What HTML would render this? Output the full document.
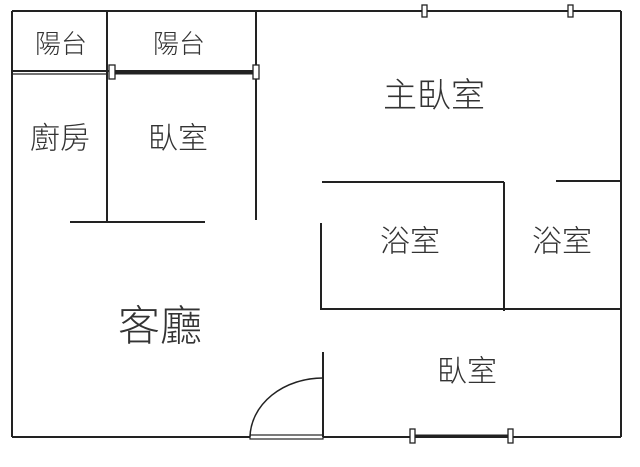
<!DOCTYPE html>
<html><head><meta charset="utf-8"><style>
html,body{margin:0;padding:0;background:#fff;}
svg{display:block;}
text{font-family:"Liberation Sans","Noto Sans CJK TC",sans-serif;fill:#333;text-anchor:middle;dominant-baseline:central;font-weight:300;}
</style></head><body>
<svg width="640" height="467" viewBox="0 0 640 467" xmlns="http://www.w3.org/2000/svg">
<g stroke="#222" stroke-width="2" fill="none">
<line x1="12" y1="11" x2="621" y2="11"/>
<line x1="12" y1="11" x2="12" y2="437"/>
<line x1="621" y1="11" x2="621" y2="437"/>
<line x1="12" y1="437" x2="250" y2="437"/>
<line x1="323" y1="437" x2="621" y2="437"/>
<line x1="107" y1="11" x2="107" y2="222"/>
<line x1="256" y1="11" x2="256" y2="220"/>
<line x1="70" y1="222" x2="205" y2="222"/>
<line x1="12" y1="71" x2="256" y2="71"/>
<line x1="12" y1="74" x2="107" y2="74" stroke-width="1.2"/>
<line x1="112" y1="73" x2="256" y2="73" stroke-width="3"/>
<line x1="322" y1="182" x2="504" y2="182"/>
<line x1="321" y1="223" x2="321" y2="310"/>
<line x1="504" y1="182" x2="504" y2="311"/>
<line x1="556" y1="181" x2="621" y2="181"/>
<line x1="321" y1="309" x2="621" y2="309"/>
<line x1="323" y1="352" x2="323" y2="437"/>
<path d="M250 437 A73 60 0 0 1 323 378" stroke-width="1.5"/>
<rect x="250" y="435" width="73" height="4" stroke-width="1.2"/>
<line x1="412" y1="436" x2="510" y2="436" stroke-width="3"/>
</g>
<g stroke="#222" stroke-width="1.3" fill="#fff">
<rect x="422" y="5" width="5" height="12"/>
<rect x="568" y="5" width="5" height="12"/>
<rect x="109" y="65" width="6" height="14"/>
<rect x="253" y="65" width="6" height="14"/>
<rect x="410" y="429" width="5" height="14"/>
<rect x="508" y="429" width="5" height="14"/>
</g>
<text x="61" y="44" font-size="26">陽台</text>
<text x="179" y="44" font-size="26">陽台</text>
<text x="60" y="139" font-size="30">廚房</text>
<text x="178" y="139" font-size="30">臥室</text>
<text x="434" y="96" font-size="34">主臥室</text>
<text x="410" y="242" font-size="30">浴室</text>
<text x="562" y="242" font-size="30">浴室</text>
<text x="160" y="326" font-size="42">客廳</text>
<text x="467" y="372" font-size="30">臥室</text>
</svg>
</body></html>
